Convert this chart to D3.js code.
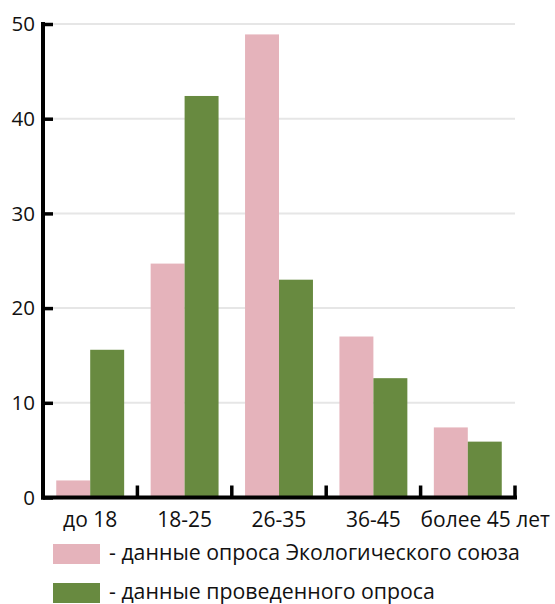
<!DOCTYPE html>
<html><head><meta charset="utf-8">
<script src="https://cdn.jsdelivr.net/npm/d3@7"></script>
<style>body{margin:0;background:#fff}svg{display:block}</style>
</head><body>
<svg id="c" width="555" height="604"></svg>
<script>
const categories = ["до 18", "18-25", "26-35", "36-45", "более 45 лет"];
const ecoUnion = [1.8, 24.7, 48.9, 17.0, 7.4];
const ownSurvey = [15.6, 42.4, 23.0, 12.6, 5.9];
const yTicks = [0, 10, 20, 30, 40, 50];
const seriesNames = ["- данные опроса Экологического союза", "- данные проведенного опроса"];
const colors = ["#e5b3bb", "#688a40"];

const svg = d3.select("#c");
const font = "'Open Sans', sans-serif";
const mLeft = 43, mRight = 515, mTop = 24, mBottom = 497.5;

const x = d3.scaleBand().domain(categories).range([mLeft, mRight]).paddingInner(0).paddingOuter(0);
const inner = d3.scaleBand().domain([0, 1]).range([0, x.bandwidth()]).paddingOuter(0.39).paddingInner(0);
const y = d3.scaleLinear().domain([0, 50]).range([mBottom, mTop]);

// grid
svg.append("g").selectAll("line").data(yTicks.filter(d => d > 0)).join("line")
  .attr("x1", mLeft + 10).attr("x2", mRight)
  .attr("y1", d => y(d)).attr("y2", d => y(d))
  .attr("stroke", "#e6e6e6").attr("stroke-width", 2);

// bars
const series = [ecoUnion, ownSurvey];
series.forEach((vals, si) => {
  svg.append("g").selectAll("rect").data(categories).join("rect")
    .attr("x", (c) => x(c) + inner(si))
    .attr("width", inner.bandwidth())
    .attr("y", (c, i) => y(vals[i]))
    .attr("height", (c, i) => y(0) - y(vals[i]))
    .attr("fill", colors[si]);
});

// y axis
const ya = svg.append("g").attr("transform", `translate(${mLeft},0)`)
  .call(d3.axisRight(y).tickValues(yTicks).tickSize(10).tickFormat(""));
ya.select(".domain").remove();
ya.selectAll(".tick line").attr("stroke", "#000").attr("stroke-width", 3.5);
svg.append("line").attr("x1", mLeft).attr("x2", mLeft).attr("y1", y(50) - 2).attr("y2", mBottom + 2)
  .attr("stroke", "#000").attr("stroke-width", 4);
svg.append("g").selectAll("text").data(yTicks).join("text")
  .attr("x", mLeft - 8).attr("y", d => y(d)).attr("dy", "0.36em")
  .attr("text-anchor", "end").attr("font-family", font).attr("font-size", 20.5).attr("fill", "#111")
  .text(d => d);

// x axis
svg.append("line").attr("x1", mLeft - 2).attr("x2", mRight + 2).attr("y1", mBottom).attr("y2", mBottom)
  .attr("stroke", "#000").attr("stroke-width", 4);
svg.append("g").selectAll("line").data(categories).join("line")
  .attr("x1", c => x(c) + x.bandwidth()).attr("x2", c => x(c) + x.bandwidth())
  .attr("y1", mBottom).attr("y2", mBottom - 12)
  .attr("stroke", "#000").attr("stroke-width", 3.5);
const xl = svg.append("g").selectAll("text").data(categories).join("text")
  .attr("y", 527)
  .attr("text-anchor", "middle").attr("font-family", font).attr("font-size", 21).attr("fill", "#111")
  .text(c => c);
xl.each(function(c) {
  const w = this.getComputedTextLength();
  const cx = Math.max(x(c) + x.bandwidth() / 2, x(c) + w / 2);
  d3.select(this).attr("x", cx);
});

// legend
const lg = svg.append("g");
seriesNames.forEach((n, i) => {
  const yy = 544 + i * 39;
  lg.append("rect").attr("x", 53).attr("y", yy).attr("width", 47).attr("height", 20).attr("fill", colors[i]);
  lg.append("text").attr("x", 109).attr("y", yy + 16)
    .attr("font-family", font).attr("font-size", 21.3).attr("fill", "#111").text(n);
});
</script>
</body></html>
